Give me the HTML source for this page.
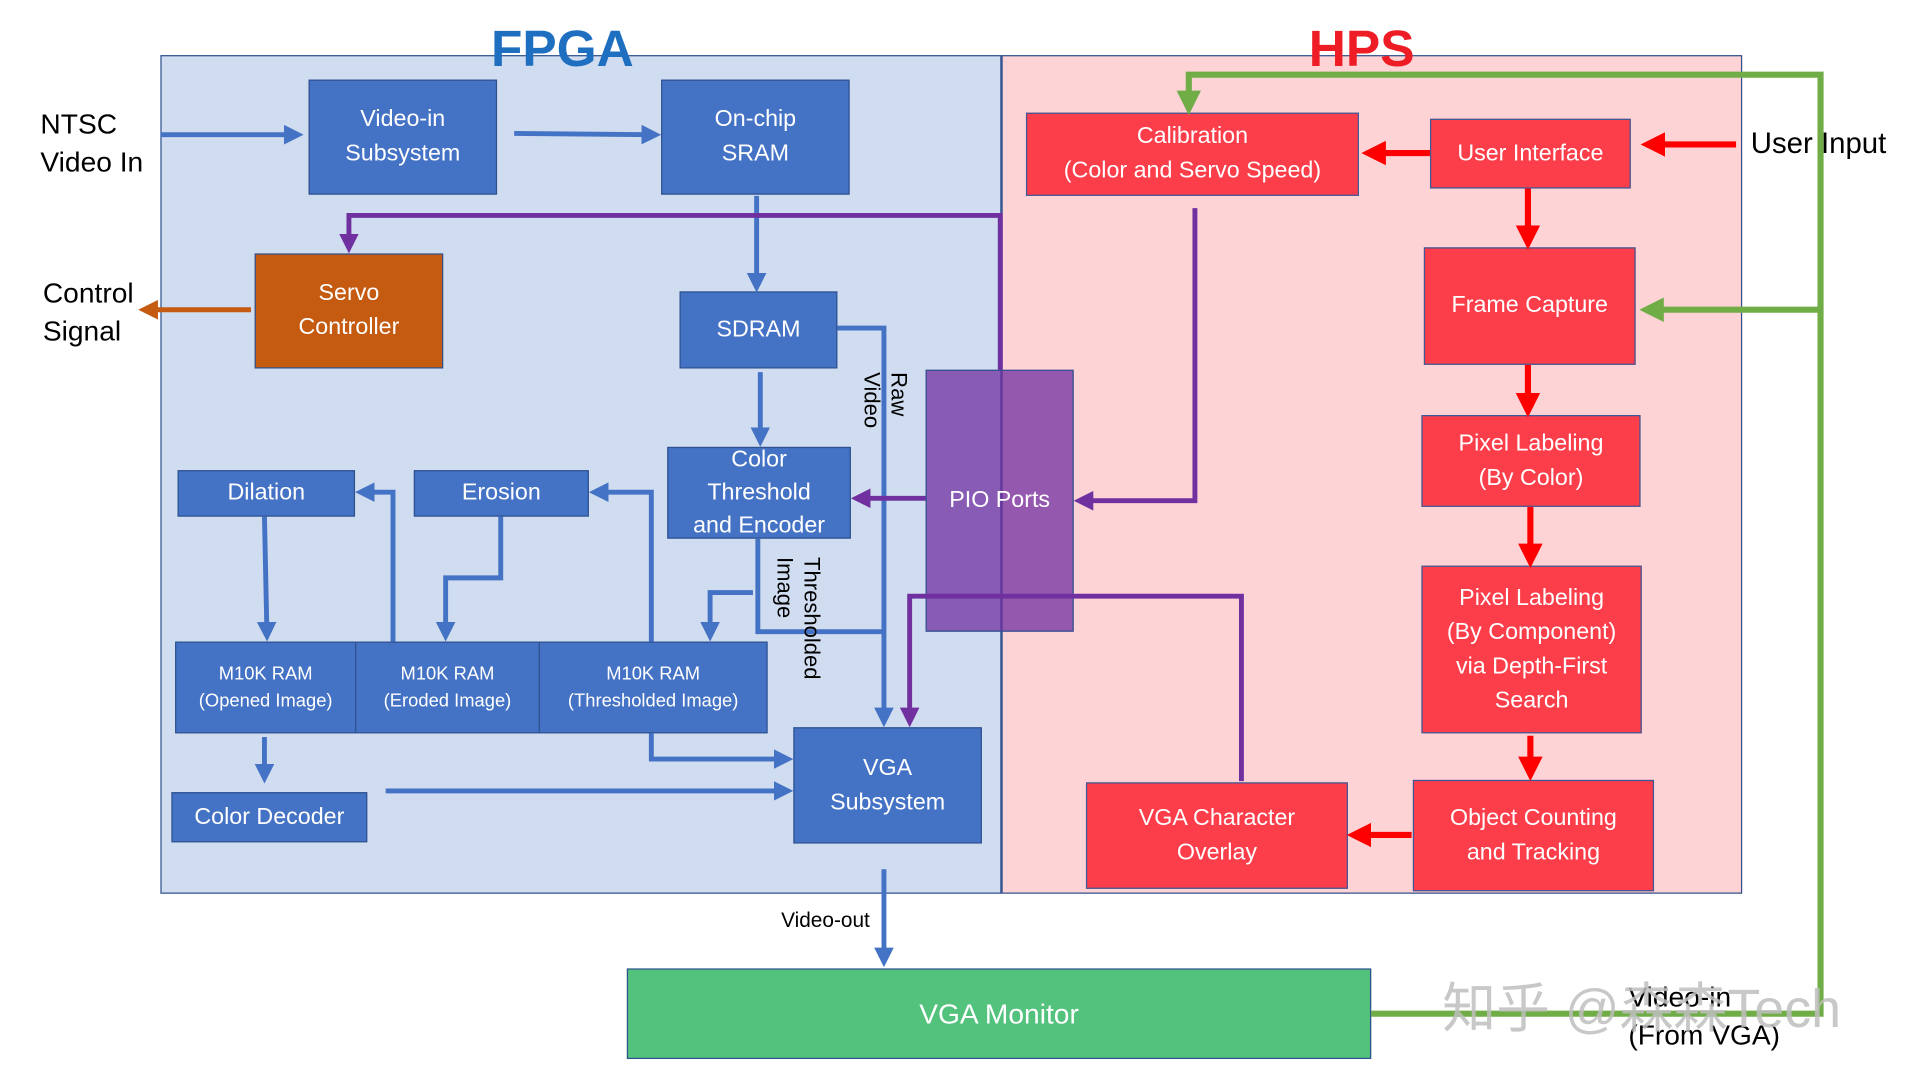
<!DOCTYPE html>
<html><head><meta charset="utf-8"><style>
html,body{margin:0;padding:0;background:#fff;overflow:hidden;width:1918px;height:1076px}
#w{position:absolute;left:0;top:0;width:1567px;height:879px;transform:scale(1.2243);transform-origin:0 0;font-family:"Liberation Sans","Noto Sans CJK SC",sans-serif}
.p{position:absolute}
.b{position:absolute;box-sizing:border-box;display:flex;align-items:center;justify-content:center;text-align:center;color:#fff;font-size:19px;line-height:28px;border:1.5px solid #2f528f}
.bl{background:#4472c4}
.rd{background:#fc3d4a;border-color:#3b5a9a}
.lab{position:absolute;font-size:23px;line-height:31px;color:#000}
</style></head><body><div id="w">
<div class="p" style="left:131px;top:45px;width:687px;height:685px;background:#d0dcef;border:1.5px solid #2f528f;box-sizing:border-box"></div>
<div class="p" style="left:818px;top:45px;width:605px;height:685px;background:#fdd3d6;border:1.5px solid #2f528f;border-left:1px solid #2f528f;box-sizing:border-box"></div>
<div class="p" style="left:401px;top:16px;font-size:42px;font-weight:bold;color:#1f6fc0">FPGA</div>
<div class="p" style="left:1069px;top:16px;font-size:42px;font-weight:bold;color:#ee1c25">HPS</div>

<div class="b bl" style="left:252px;top:65px;width:154px;height:94px">Video-in<br>Subsystem</div>
<div class="b bl" style="left:540px;top:65px;width:154px;height:94px">On-chip<br>SRAM</div>
<div class="b" style="left:208px;top:207px;width:154px;height:94px;background:#c55a11;border-color:#2f528f">Servo<br>Controller</div>
<div class="b bl" style="left:555px;top:238px;width:129px;height:63px">SDRAM</div>
<div class="b bl" style="left:545px;top:365px;width:150px;height:75px;line-height:27px">Color<br>Threshold<br>and Encoder</div>
<div class="b bl" style="left:145px;top:384px;width:145px;height:38px">Dilation</div>
<div class="b bl" style="left:338px;top:384px;width:143px;height:38px">Erosion</div>
<div class="b bl" style="left:143px;top:524px;width:148px;height:75px;font-size:15px;line-height:22px">M10K RAM<br>(Opened Image)</div>
<div class="b bl" style="left:290px;top:524px;width:151px;height:75px;font-size:15px;line-height:22px">M10K RAM<br>(Eroded Image)</div>
<div class="b bl" style="left:440px;top:524px;width:187px;height:75px;font-size:15px;line-height:22px">M10K RAM<br>(Thresholded Image)</div>
<div class="b bl" style="left:140px;top:647px;width:160px;height:41px">Color Decoder</div>
<div class="b bl" style="left:648px;top:594px;width:154px;height:95px">VGA<br>Subsystem</div>
<div class="b" style="left:756px;top:302px;width:121px;height:214px;background:rgba(112,48,160,0.75);border-color:#2f528f">PIO Ports</div>
<div class="b" style="left:512px;top:791px;width:608px;height:74px;background:#53c27d;border-color:#2f528f;font-size:23px">VGA Monitor</div>

<div class="b rd" style="left:838px;top:92px;width:272px;height:68px">Calibration<br>(Color and Servo Speed)</div>
<div class="b rd" style="left:1168px;top:97px;width:164px;height:57px">User Interface</div>
<div class="b rd" style="left:1163px;top:202px;width:173px;height:96px">Frame Capture</div>
<div class="b rd" style="left:1161px;top:339px;width:179px;height:75px">Pixel Labeling<br>(By Color)</div>
<div class="b rd" style="left:1161px;top:462px;width:180px;height:137px">Pixel Labeling<br>(By Component)<br>via Depth-First<br>Search</div>
<div class="b rd" style="left:1154px;top:637px;width:197px;height:91px">Object Counting<br>and Tracking</div>
<div class="b rd" style="left:887px;top:639px;width:214px;height:87px">VGA Character<br>Overlay</div>

<svg class="p" style="left:0;top:0" width="1567" height="879">
<defs>
<marker id="ab" markerWidth="4" markerHeight="4" refX="2" refY="2" orient="auto" markerUnits="strokeWidth"><path d="M0,0L4,2L0,4z" fill="#4472c4"/></marker>
<marker id="ap" markerWidth="4" markerHeight="4" refX="2" refY="2" orient="auto" markerUnits="strokeWidth"><path d="M0,0L4,2L0,4z" fill="#7030a0"/></marker>
<marker id="ar" markerWidth="4" markerHeight="4" refX="2" refY="2" orient="auto" markerUnits="strokeWidth"><path d="M0,0L4,2L0,4z" fill="#ff0000"/></marker>
<marker id="ag" markerWidth="4" markerHeight="4" refX="2" refY="2" orient="auto" markerUnits="strokeWidth"><path d="M0,0L4,2L0,4z" fill="#70ad47"/></marker>
<marker id="ao" markerWidth="4" markerHeight="4" refX="2" refY="2" orient="auto" markerUnits="strokeWidth"><path d="M0,0L4,2L0,4z" fill="#c55a11"/></marker>
</defs>
<g fill="none" stroke="#4472c4" stroke-width="4">
<path d="M131,110H240" marker-end="url(#ab)"/>
<path d="M420,109L532,110" marker-end="url(#ab)"/>
<path d="M618,160V231" marker-end="url(#ab)"/>
<path d="M684,268H722V586" marker-end="url(#ab)"/>
<path d="M621,304V357" marker-end="url(#ab)"/>
<path d="M619,440V516H722"/>
<path d="M615,484H580V516" marker-end="url(#ab)"/>
<path d="M409,422V472H364V516" marker-end="url(#ab)"/>
<path d="M216,422L218,516" marker-end="url(#ab)"/>
<path d="M532,524V402H489" marker-end="url(#ab)"/>
<path d="M321,524V402H298" marker-end="url(#ab)"/>
<path d="M216,602V632" marker-end="url(#ab)"/>
<path d="M532,599V620H640" marker-end="url(#ab)"/>
<path d="M315,646H640" marker-end="url(#ab)"/>
<path d="M722,710V782" marker-end="url(#ab)"/>
</g>
<path d="M205,253H121" stroke="#c55a11" stroke-width="4" fill="none" marker-end="url(#ao)"/>
<g fill="none" stroke="#7030a0" stroke-width="4">
<path d="M817,302V176H285V199" marker-end="url(#ap)"/>
<path d="M756,407H703" marker-end="url(#ap)"/>
<path d="M976,170V409H885" marker-end="url(#ap)"/>
<path d="M1014,638V487H743V586" marker-end="url(#ap)"/>
</g>
<g fill="none" stroke="#ff0000" stroke-width="5">
<path d="M1418,118H1350" marker-end="url(#ar)"/>
<path d="M1168,125H1122" marker-end="url(#ar)"/>
<path d="M1248,154V194" marker-end="url(#ar)"/>
<path d="M1248,298V331" marker-end="url(#ar)"/>
<path d="M1250,414V454" marker-end="url(#ar)"/>
<path d="M1250,601V628" marker-end="url(#ar)"/>
<path d="M1153,682H1110" marker-end="url(#ar)"/>
</g>
<g fill="none" stroke="#70ad47" stroke-width="5">
<path d="M1120,828H1487V61H971V84" marker-end="url(#ag)"/>
<path d="M1487,253H1349" marker-end="url(#ag)"/>
</g>
</svg>

<div class="lab" style="left:33px;top:86px">NTSC<br>Video In</div>
<div class="lab" style="left:35px;top:224px">Control<br>Signal</div>
<div class="lab" style="left:1430px;top:102px;font-size:24px">User Input</div>
<div class="lab" style="left:1330px;top:799px">Video-in<br>(From VGA)</div>
<div class="p" style="left:638px;top:742px;font-size:17px">Video-out</div>
<div class="p" style="left:695px;top:304px;width:50px;font-size:18px;line-height:22px;transform-origin:0 0;transform:translate(50px,0) rotate(90deg)">Raw<br>Video</div>
<div class="p" style="left:628px;top:455px;width:110px;font-size:18px;line-height:22px;transform-origin:0 0;transform:translate(46px,0) rotate(90deg)">Thresholded<br>Image</div>
<div class="p" style="left:1178px;top:788px;font-size:44px;color:rgba(190,190,190,0.85);white-space:nowrap">知乎 @森森Tech</div>
</div></body></html>
